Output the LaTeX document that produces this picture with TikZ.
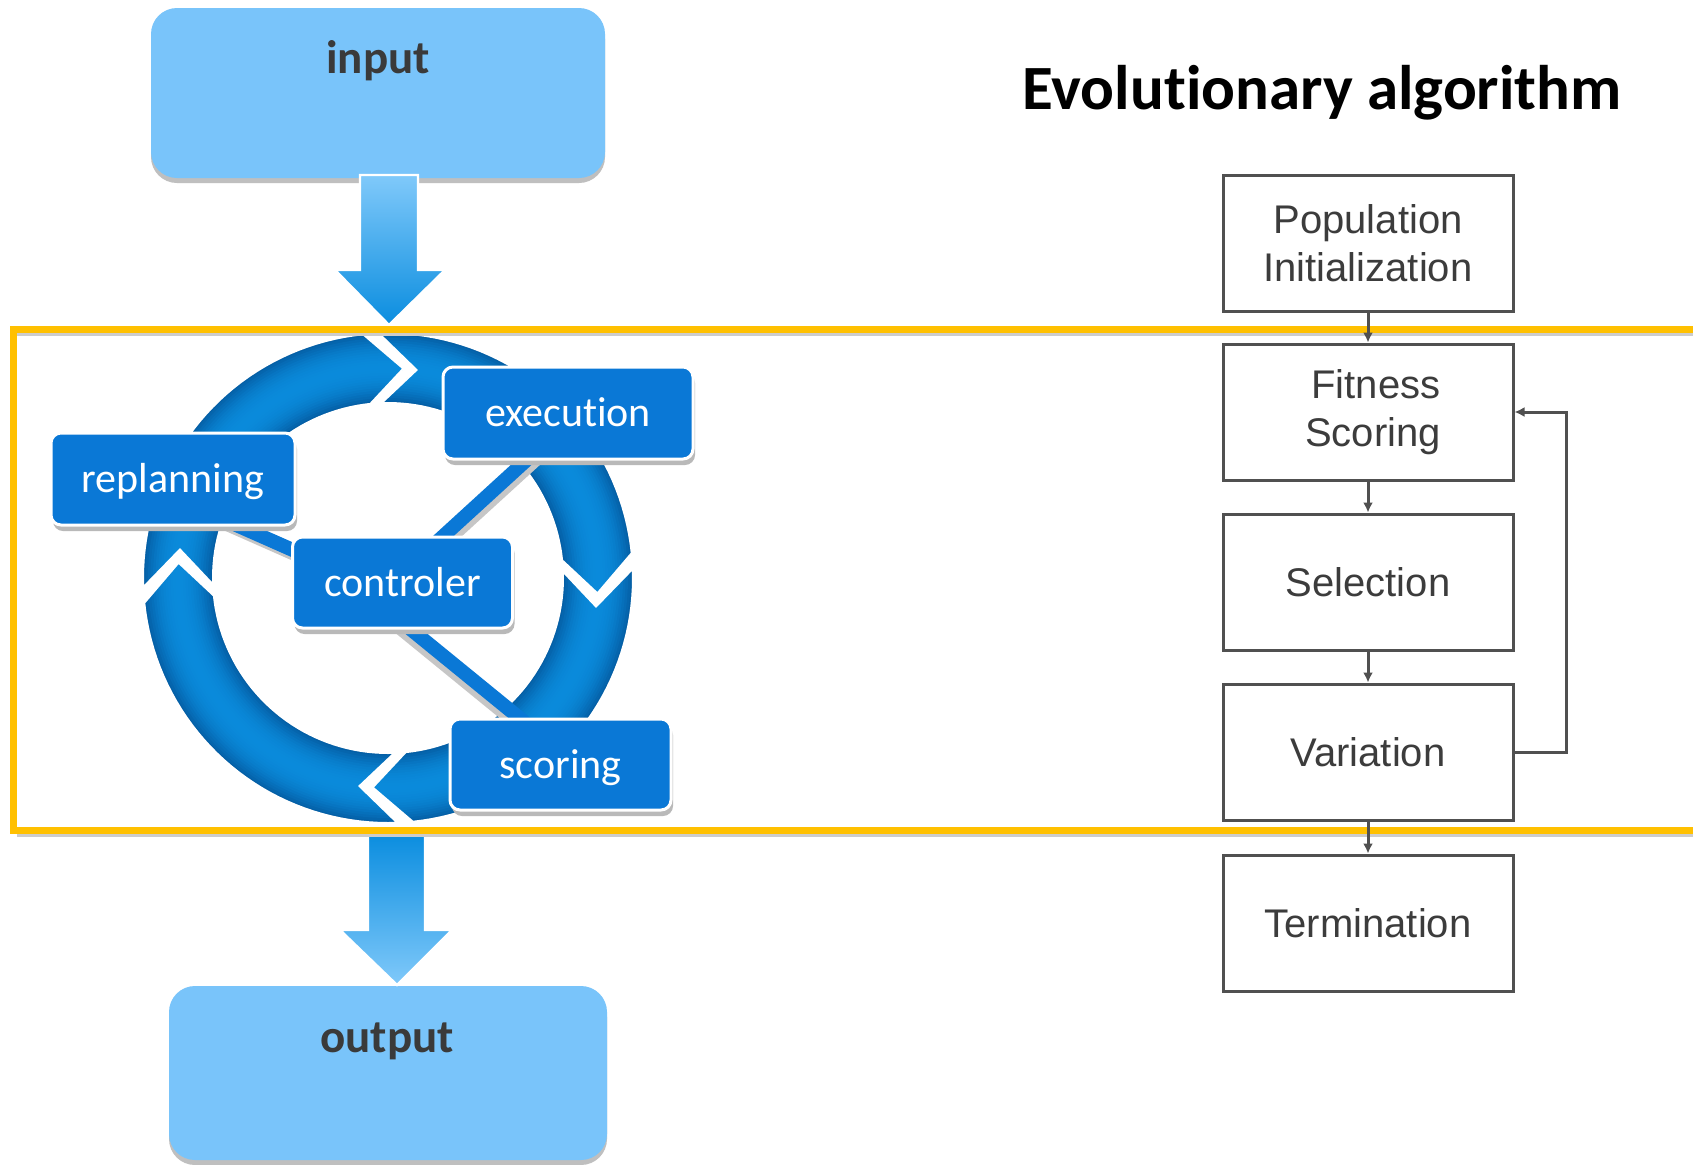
\documentclass[tikz,border=0pt]{standalone}
\usepackage{fontspec}
\setmainfont{Carlito}[Ligatures={CommonOff,ContextualOff,RequiredOff,DiscretionaryOff}, RawFeature=-clig]
\newfontfamily\flowfont{Liberation Sans}
\usetikzlibrary{arrows.meta,shadows,calc,backgrounds}

\definecolor{orangeband}{HTML}{FFC000}
\definecolor{iofill}{HTML}{79C4FA}
\definecolor{iotext}{HTML}{3A3A3A}
\definecolor{stagefill}{HTML}{0A78D6}
\definecolor{ringdark}{HTML}{045FA6}
\definecolor{ringlight}{HTML}{0A8ADB}
\definecolor{arrowlight}{HTML}{80C9FA}
\definecolor{arrowdark}{HTML}{0A8DDF}
\definecolor{flowline}{HTML}{505050}
\definecolor{flowtext}{HTML}{3C3C3C}

% keeps "t" and "i" as separate glyphs
\newcommand\nolig{\kern0pt }

% one quarter of the cycle ring: outer arc, pointed head, inner arc, notched tail
\newcommand\segpath{%
  plot[domain=0:1,samples=40,variable=\t] ({388+245*cos((\segS)+86.4*\t)},{578+245*sin((\segS)+86.4*\t)})
  -- ({388+210*cos(\segT)},{578+210*sin(\segT)})
  -- plot[domain=0:1,samples=40,variable=\t] ({388+175*cos((\segS)+86.4-86.4*\t)},{578+175*sin((\segS)+86.4-86.4*\t)})
  -- ({388+210*cos(\segN)},{578+210*sin(\segN)}) -- cycle}

\begin{document}
\begin{tikzpicture}[x=0.5pt,y=-0.5pt,
  iobox/.style={fill=iofill, rounded corners=13pt, minimum width=227pt, minimum height=85pt, inner sep=0pt,
    drop shadow={shadow xshift=0pt, shadow yshift=-2.5pt, fill=gray!50, opacity=1}},
  iolabel/.style={font=\bfseries\fontsize{23.5pt}{28pt}\selectfont, text=iotext, anchor=base, inner sep=0pt},
  stagebox/.style={fill=stagefill, draw=white, line width=1.5pt, rounded corners=5pt, inner sep=0pt,
    text=white, font=\fontsize{21pt}{25pt}\selectfont, text height=15pt, text depth=1.5pt,
    drop shadow={shadow xshift=1pt, shadow yshift=-3pt, fill=gray!55, opacity=1}},
  stagelink/.style={stagefill, line width=7pt},
  linkshadow/.style={gray!45, line width=7pt},
  flowbox/.style={draw=flowline, line width=1.5pt, fill=white, minimum width=145pt, minimum height=68pt,
    inner sep=0pt, font=\flowfont\fontsize{20pt}{24pt}\selectfont, text=flowtext, align=center},
  flowarrow/.style={flowline, line width=1.5pt, -{Latex[length=5pt,width=5pt]}},
  bigarrow/.style={draw=white, line width=1.2pt}
]
\useasboundingbox (0,0) rectangle (1693,1164);

% input and output boxes
\node[iobox] (inbox) at (378,93) {};
\node[iolabel] (intext) at (378,73) {input};
\node[iobox, minimum width=219pt, minimum height=87pt] (outbox) at (388,1073) {};
\node[iolabel] (outtext) at (387,1052) {output};

% wide arrows into and out of the cycle
\shade[bigarrow, top color=arrowlight, bottom color=arrowdark]
  (360,175) -- (418,175) -- (418,270) -- (445,270) -- (389,325) -- (335,270) -- (360,270) -- cycle;
\shade[bigarrow, top color=arrowdark, bottom color=arrowlight]
  (368,833) -- (425,833) -- (425,930) -- (452,930) -- (397,985) -- (340,930) -- (368,930) -- cycle;

% stage boxes
\node[stagebox, minimum width=125pt, minimum height=46pt] (exec) at (568,413) {execut\nolig ion};
\node[stagebox, minimum width=122pt, minimum height=46pt] (replan) at (173,479) {replanning};
\node[stagebox, minimum width=110pt, minimum height=45.5pt] (ctrl) at (402.5,582.5) {controler};
\node[stagebox, minimum width=110.5pt, minimum height=45.5pt] (score) at (560.5,764.5) {scoring};

\begin{scope}[on background layer]
  \fill[white] (0,0) rectangle (1693,1164);
  % cycle ring made of four arrow segments with a tube-like shading
  \foreach \B in {-90,0,90,180} {
    \pgfmathsetmacro\segS{\B-2.2}
    \pgfmathsetmacro\segT{\B+94.2}
    \pgfmathsetmacro\segN{\B+7.8}
    \begin{scope}
      \clip \segpath;
      \foreach \i in {0,...,13} {
        \pgfmathsetmacro\lw{35*(1-\i/14)}
        \pgfmathtruncatemacro\mixp{100*(1-(1-\i/13)^2)}
        \draw[line width=\lw pt, draw=ringlight!\mixp!ringdark] (388,578) circle[radius=105pt];
      }
    \end{scope}
    \draw[white, line width=1pt] \segpath;
  }
  % links from the controller to the stages, above the ring and below the boxes
  \draw[linkshadow] ($(replan.center)+(2,22)$) -- ($(ctrl.center)+(2,20)$);
  \draw[linkshadow] ($(ctrl.center)+(-6,4)$) -- ($(exec.center)+(14,4)$);
  \draw[linkshadow] ($(ctrl.center)+(-53,4)$) -- ($(score.center)+(12,4)$);
  \draw[stagelink] ($(replan.center)+(0,18)$) -- ($(ctrl.center)+(0,16)$);
  \draw[stagelink] ($(ctrl.center)+(-10,0)$) -- ($(exec.center)+(10,0)$);
  \draw[stagelink] ($(ctrl.center)+(-49,0)$) -- ($(score.center)+(16,0)$);
\end{scope}

% orange band around the loop
\draw[gray!40, line width=1.5pt] (17,334.5) -- (1693,334.5);
\draw[gray!40, line width=1.5pt] (17,835.5) -- (1693,835.5);
\draw[orangeband, line width=3.5pt] (13,329) rectangle (1720,830);

% title
\node[font=\bfseries\fontsize{31.5pt}{36pt}\selectfont, anchor=base, inner sep=0pt] (title) at (1322,109) {Evolut\nolig ionary algorithm};

% evolutionary algorithm flow
\node[flowbox] (pop) at (1368,243) {Population\\Initialization};
\node[flowbox] (fit) at (1368,412) {\hspace*{8pt}Fitness\\\hspace*{5pt}Scoring};
\node[flowbox] (sel) at (1368,582) {Selection};
\node[flowbox] (var) at (1368,752) {Variation};
\node[flowbox] (term) at (1368,923) {Termination};
\draw[flowarrow] (pop.south) -- (fit.north);
\draw[flowarrow] (fit.south) -- (sel.north);
\draw[flowarrow] (sel.south) -- (var.north);
\draw[flowarrow] (var.south) -- (term.north);
\draw[flowarrow] (var.east) -- ++(52,0) |- (fit.east);
\end{tikzpicture}
\end{document}
